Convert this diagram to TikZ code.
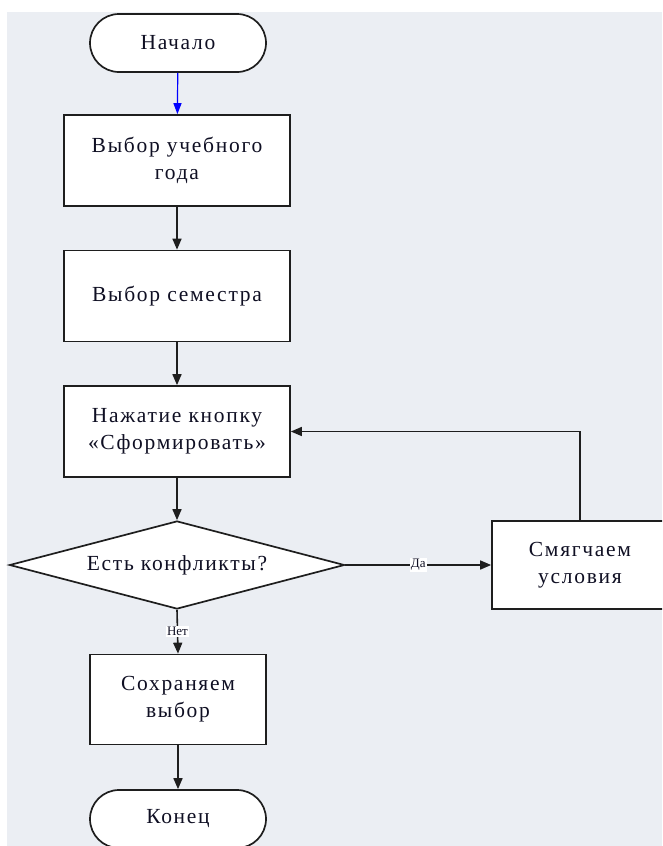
\documentclass[tikz,border=0pt]{standalone}
\usepackage{fontspec}
\setmainfont{Liberation Serif}
\usetikzlibrary{arrows.meta,shapes.geometric}
\definecolor{bgc}{RGB}{235,238,243}
\definecolor{linec}{RGB}{30,30,30}
\definecolor{txtc}{RGB}{15,15,35}
\tikzset{
  base/.style={draw=linec, line width=1.7pt, fill=white, inner sep=2pt, align=center,
     text=txtc, font=\fontsize{21.5}{27}\selectfont\addfontfeature{LetterSpace=8}},
  procbox/.style={base, rectangle, minimum width=226pt, minimum height=91pt},
  smallbox/.style={base, rectangle, minimum width=176pt, minimum height=90pt},
  term/.style={base, rectangle, rounded corners=29pt, minimum width=176pt, minimum height=58pt},
  decision/.style={base, diamond, aspect=3.8, minimum width=335pt, minimum height=88pt, inner sep=0pt},
  flow/.style={draw=linec, line width=1.6pt, -{Triangle[length=11pt,width=9pt]}},
  lbl/.style={fill=white, inner sep=1pt, text=txtc, font=\fontsize{13}{15}\selectfont}
}
\begin{document}
\begin{tikzpicture}[x=1pt,y=-1pt]
\useasboundingbox (0,0) rectangle (662,846);
\clip (0,0) rectangle (662,846);
\fill[bgc] (7,12) rectangle (662,846);
\node[term] (start) at (178,43) {Начало};
\node[procbox] (b1) at (177,160.5) {Выбор учебного\\года};
\node[procbox] (b2) at (177,296) {Выбор семестра};
\node[procbox] (b3) at (177,431.5) {Нажатие кнопку\\«Сформировать»};
\node[decision] (dec) at (177,565) {Есть конфликты?};
\node[smallbox, minimum height=88pt] (soft) at (580,565) {Смягчаем\\условия};
\node[smallbox] (save) at (178,699.5) {Сохраняем\\выбор};
\node[term] (end) at (178,819) {Конец};
\draw[flow, draw=blue, line width=1.2pt, -{Triangle[length=11pt,width=8pt]}] (start) -- (b1);
\draw[flow] (b1) -- (b2);
\draw[flow] (b2) -- (b3);
\draw[flow] (b3) -- (dec);
\draw[flow] (dec.east) -- node[lbl] (yes) {Да} (soft.west);
\draw[flow, line width=1.4pt] (soft.north) |- (b3.east);
\draw[flow] (dec.south) -- node[lbl] (no) {Нет} (save.north);
\draw[flow] (save) -- (end);
\end{tikzpicture}
\end{document}
